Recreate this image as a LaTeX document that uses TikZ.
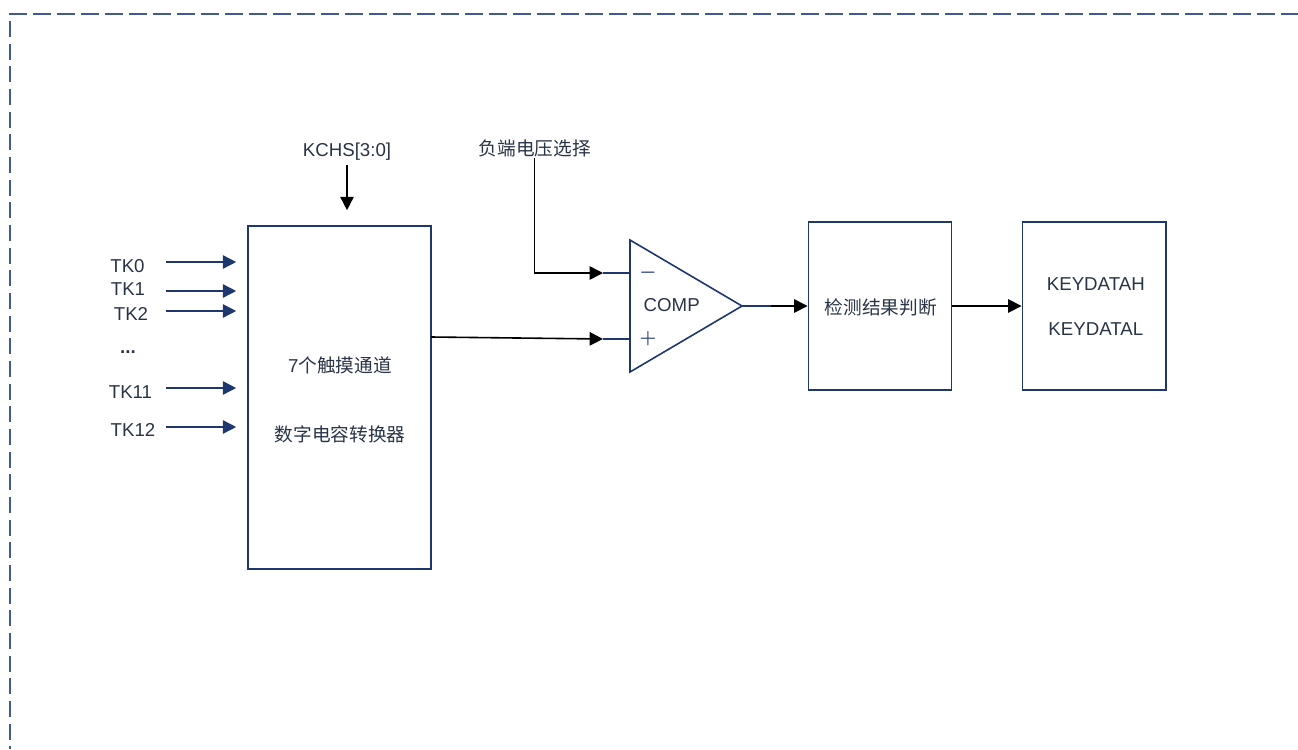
\documentclass[tikz,border=0pt]{standalone}
\usepackage{fontspec}
\setmainfont{Liberation Sans}
\newfontfamily\cjk{Noto Sans CJK SC}
\usetikzlibrary{positioning, arrows.meta}

\definecolor{navy}{RGB}{30,55,110}
\definecolor{txt}{RGB}{40,52,70}
\definecolor{dashblue}{RGB}{65,90,150}

\tikzset{
  blk/.style={draw=navy, line width=1.2pt, inner sep=0pt},
  lbl/.style={text=txt, inner sep=1pt, font=\fontsize{14}{16.8}\selectfont},
  sgn/.style={text=navy, inner sep=0pt, font=\fontsize{15}{18}\selectfont\boldmath},
  arr/.style={-{Triangle[length=10pt,width=10pt]}, line width=1.2pt},
}

\begin{document}
\begin{tikzpicture}[x=0.75pt,y=-0.75pt]
\useasboundingbox (0,0) rectangle (1298,749);

% dashed frame
\draw[dashblue, line width=1.5pt, dash pattern=on 13.3pt off 4.7pt] (9,14) -- (1298,14);
\draw[dashblue, line width=1.5pt, dash pattern=on 12pt off 5pt] (10,21) -- (10,749);

% blocks
\node[blk, minimum width=137.25pt, minimum height=257.25pt] (conv) at (339.5,397.5) {};
\node[lbl] (convA) at (340,365) {7\cjk 个触摸通道};
\node[lbl] (convB) at (340,434) {\cjk 数字电容转换器};
\node[blk, minimum width=107.5pt, minimum height=126.2pt] (judge) at (880,306) {};
\node[lbl] (judgeT) at (880.7,307) {\cjk 检测结果判断};
\node[blk, minimum width=107.8pt, minimum height=126.2pt] (keydata) at (1094.2,306) {};
\node[lbl] (keyH) at (1095.8,284) {KEYDATAH};
\node[lbl] (keyL) at (1095.8,329) {KEYDATAL};

% comparator
\coordinate (cmpTop) at (630,240);
\coordinate (cmpBot) at (630,372);
\coordinate (cmpOut) at (742,306);
\draw[navy, line width=1.2pt, line join=miter] (cmpTop) -- (cmpOut) -- (cmpBot) -- cycle;
\node[lbl] (comp) at (671.7,305) {COMP};
\node[sgn] (minus) at (648,273) {$-$};
\node[sgn] (plus) at (648,339) {$+$};

% touch inputs
\foreach \n/\y/\lx/\ly/\t in {0/262/127.5/266/TK0, 1/291/128/289/TK1, 2/311/131/314/TK2,
                              11/388/130.5/392/TK11, 12/427/133/430/TK12}
{
  \node[lbl] (tk\n) at (\lx,\ly) {\t};
  \coordinate (tks\n) at (165.5,\y);
  \draw[arr, navy, shorten >=8.25pt] (tks\n) -- (tks\n -| conv.west);
}
\node[lbl] (tkdots) at (128,352) {\textbf{...}};

% channel select
\node[lbl] (kchs) at (347,152) {KCHS[3:0]};
\coordinate (kchsS) at (347,165);
\draw[arr, shorten >=11.25pt] (kchsS) -- (kchsS |- conv.north);

% comparator inputs
\node[lbl] (vneg) at (534.7,148) {\cjk 负端电压选择};
\coordinate (vnegS) at (534.3,158);
\coordinate (inM) at (603,273);
\coordinate (inP) at (603,339);
\coordinate (convOut) at (431,337);
\draw[arr] (vnegS) |- (inM);
\draw[navy, line width=1.2pt] (inM) -- (cmpTop |- inM);
\draw[arr] (convOut) -- (inP);
\draw[navy, line width=1.2pt] (inP) -- (cmpTop |- inP);

% outputs
\coordinate (cmpLead) at (771,306);
\draw[navy, line width=1.2pt] (cmpOut) -- (cmpLead);
\draw[arr] (cmpLead) -- (judge.west);
\draw[arr] (judge.east) -- (keydata.west);

\end{tikzpicture}
\end{document}
